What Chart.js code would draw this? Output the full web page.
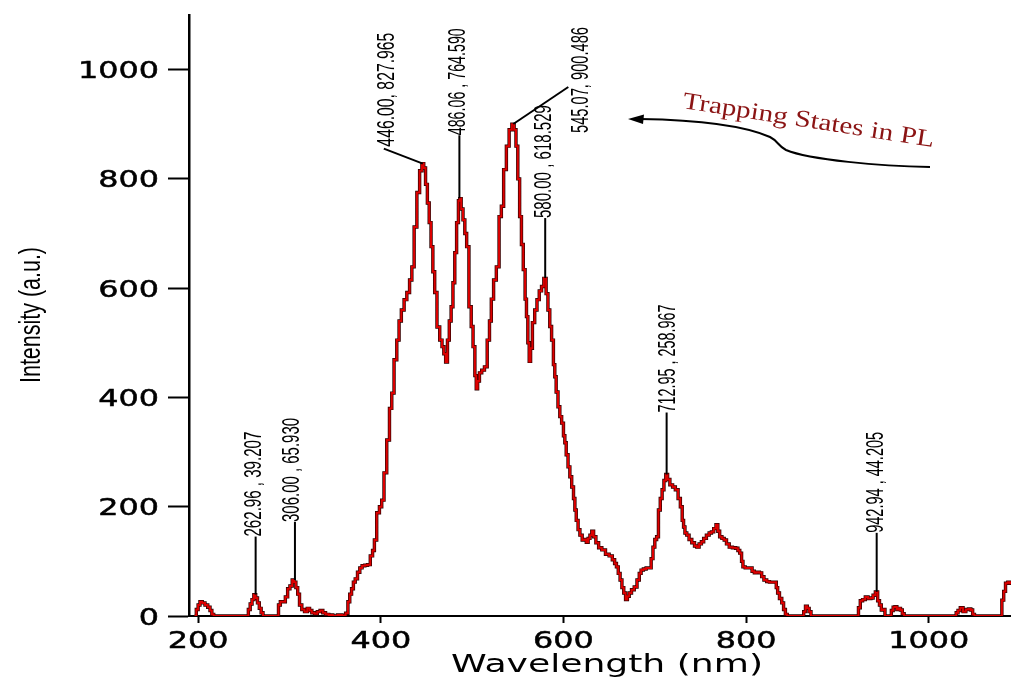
<!DOCTYPE html>
<html><head><meta charset="utf-8">
<script src="https://cdn.jsdelivr.net/npm/chart.js@4.4.0/dist/chart.umd.min.js"></script>
<style>html,body{margin:0;padding:0;background:#fff;overflow:hidden}#wrap{width:1011px;height:677px;position:relative}</style>
</head><body><div id="wrap"><canvas id="c" width="1011" height="677"></canvas></div>
<script>
const wavelengths = [196,197,199,201,203,206,209,212,214,216,218,254,256,258,260,262,264,266,268,270,272,287,289,291,294,297,299,302,304,306,308,310,312,315,318,321,323,326,329,332,335,338,341,345,350,355,360,363,365,367,369,371,373,376,378,381,384,387,390,392,394,397,400,402,405,408,411,413,416,419,421,424,427,430,433,435,438,441,444,446,448,450,452,454,456,458,460,463,466,468,470,472,474,476,478,480,482,484,486,487,489,491,493,495,498,500,502,504,505,507,509,512,515,518,520,522,525,528,531,533,536,539,542,545,547,549,551,553,555,557,559,560,562,563,565,567,570,572,575,577,580,582,584,586,588,590,591,593,595,597,599,601,602,604,606,608,610,612,613,615,617,619,622,624,626,628,630,632,634,637,640,644,648,652,655,657,659,661,663,665,667,669,671,673,676,679,682,684,686,689,692,695,697,699,701,703,705,707,709,711,713,715,718,721,724,727,729,731,732,734,736,739,742,745,747,750,752,755,758,761,763,766,768,770,772,775,777,780,783,787,790,792,794,796,797,801,805,808,810,813,816,818,821,824,827,830,832,834,835,838,840,842,844,846,862,864,866,868,870,872,922,924,926,929,932,935,938,940,943,945,947,949,951,953,958,960,962,964,966,968,970,972,974,1029,1031,1033,1036,1039,1042,1045,1047,1049,1051,1079,1081,1083,1085,1088,1090];
const intensity = [0,0,12,20,26,24,20,16,10,3,0,0,12,22,30,39,33,24,14,6,0,0,20,26,26,35,50,55,66,62,52,40,20,12,8,14,10,6,4,8,10,6,3,2,0,2,1,5,26,40,50,62,68,80,88,92,93,94,110,120,139,189,200,212,262,322,380,408,469,505,540,560,579,592,615,639,712,775,815,828,820,790,756,720,676,630,592,529,505,493,480,465,505,540,566,610,665,720,760,764,745,725,700,676,566,530,493,440,416,430,445,450,456,505,540,580,615,639,731,750,817,860,890,900,890,860,800,731,680,634,580,548,500,466,490,537,560,579,595,603,618,590,560,530,505,460,438,410,383,365,353,330,317,295,273,255,236,215,194,175,158,148,139,140,135,142,148,155,145,134,125,121,113,110,103,96,90,78,66,52,42,30,36,42,48,53,66,78,84,86,88,88,105,126,140,145,194,215,231,248,259,250,240,236,231,215,200,175,163,152,148,140,134,128,126,132,136,142,148,152,154,160,167,155,145,142,139,132,126,125,124,120,115,100,90,88,88,82,79,80,79,72,66,63,62,62,62,52,42,32,24,12,3,0,0,8,18,14,8,0,0,15,28,30,35,32,33,38,44,28,20,11,12,0,0,10,16,17,12,14,11,4,0,0,6,10,15,8,12,13,11,3,0,0,29,45,60,62,60];
const xTickValues = [200,400,600,800,1000];
const yTickValues = [0,200,400,600,800,1000];
const peakWavelengths = [262.96,306.00,446.00,486.06,545.07,580.00,712.95,942.94];
const peakIntensities = [39.207,65.930,827.965,764.590,900.486,618.529,258.967,44.205];
const peakLabels = ["262.96 , 39.207","306.00 , 65.930","446.00, 827.965","486.06 , 764.590","545.07, 900.486","580.00 , 618.529","712.95 , 258.967","942.94 , 44.205"];
const xTitle = "Wavelength (nm)";
const yTitle = "Intensity (a.u.)";
const noteText = "Trapping States in PL";

// label layout relative to peak pixel: text centre dx, text start dy, text length, leader start (null = vertical)
const labelLayout = [
  {dx:-3, dy:-58, len:105, lead:null},
  {dx:-4, dy:-58, len:104, lead:null},
  {dx:-37, dy:-17, len:114, lead:[-39,-15]},
  {dx:-2, dy:-63, len:107, lead:null},
  {dx:67, dy:9, len:106, lead:[55,-37]},
  {dx:-2, dy:-60, len:113, lead:null},
  {dx:0, dy:-62, len:108, lead:null},
  {dx:-2, dy:-59, len:101, lead:null}
];

const points = wavelengths.map((w,i)=>({x:w, y:intensity[i]}));

const textPlugin = {
  id:'texts',
  afterDraw(chart){
    const ctx = chart.ctx, xs = chart.scales.x, ys = chart.scales.y;
    ctx.save();
    ctx.fillStyle = '#000';
    const tickFont = '23px "DejaVu Sans"';
    ctx.font = tickFont;
    const st = 81 / ctx.measureText('1000').width;
    ctx.textBaseline = 'alphabetic';
    ctx.strokeStyle = '#000'; ctx.lineWidth = 0.5;
    yTickValues.forEach(v=>{
      const y = ys.getPixelForValue(v);
      ctx.save(); ctx.translate(159, y + 8.5); ctx.scale(st,1);
      ctx.textAlign = 'right'; ctx.fillText(String(v),0,0); ctx.strokeText(String(v),0,0); ctx.restore();
    });
    xTickValues.forEach(v=>{
      const x = xs.getPixelForValue(v);
      ctx.save(); ctx.translate(x, 648); ctx.scale(st,1);
      ctx.textAlign = 'center'; ctx.fillText(String(v),0,0); ctx.strokeText(String(v),0,0); ctx.restore();
    });
    ctx.font = '24px "DejaVu Sans"';
    let w = ctx.measureText(xTitle).width;
    ctx.save(); ctx.translate(607, 672); ctx.scale(312/w,1);
    ctx.textAlign='center'; ctx.fillText(xTitle,0,0); ctx.restore();
    ctx.font = '30px "Liberation Sans"';
    w = ctx.measureText(yTitle).width;
    ctx.save(); ctx.translate(40, 315); ctx.rotate(-Math.PI/2); ctx.scale(136/w,1);
    ctx.textAlign='center'; ctx.fillText(yTitle,0,0); ctx.restore();
    ctx.strokeStyle = '#000'; ctx.lineWidth = 2;
    ctx.font = '23px "Liberation Sans"';
    peakWavelengths.forEach((pw,i)=>{
      const px = xs.getPixelForValue(pw), py = ys.getPixelForValue(peakIntensities[i]);
      const L = labelLayout[i];
      const tx = px + L.dx, ty = py + L.dy;
      ctx.beginPath();
      if (L.lead) { ctx.moveTo(px + L.lead[0], py + L.lead[1]); }
      else { ctx.moveTo(px, ty); }
      ctx.lineTo(px, py); ctx.stroke();
      const tw = ctx.measureText(peakLabels[i]).width;
      ctx.save(); ctx.translate(tx + 8, ty); ctx.rotate(-Math.PI/2); ctx.scale(L.len/tw,1);
      ctx.textAlign='left'; ctx.fillText(peakLabels[i],0,0); ctx.restore();
    });
    ctx.fillStyle = '#8b1414';
    ctx.font = '24px "Liberation Serif"';
    w = ctx.measureText(noteText).width;
    ctx.save(); ctx.translate(682,108); ctx.rotate(Math.atan2(39,251)); ctx.scale(254/w,1);
    ctx.textAlign='left'; ctx.fillText(noteText,0,0); ctx.restore();
    ctx.strokeStyle='#000'; ctx.lineWidth=2;
    ctx.beginPath();
    ctx.moveTo(930,167);
    ctx.bezierCurveTo(880,166,810,160,786,150);
    ctx.bezierCurveTo(778,146,778,141,770,137);
    ctx.bezierCurveTo(745,126,700,120,640,119);
    ctx.stroke();
    ctx.fillStyle='#000';
    ctx.beginPath(); ctx.moveTo(628,119); ctx.lineTo(644,114.5); ctx.lineTo(643,124); ctx.closePath(); ctx.fill();
    ctx.restore();
  }
};

new Chart(document.getElementById('c'), {
  type:'line',
  data:{datasets:[
    {data:points, borderColor:'#dd0000', borderWidth:2, pointRadius:0, stepped:'middle', fill:false},
    {data:points, borderColor:'#2a0000', borderWidth:3.4, pointRadius:0, stepped:'middle', fill:false}
  ]},
  options:{
    responsive:false, animation:false, devicePixelRatio:1,
    layout:{padding:{top:15,right:0,bottom:0,left:0}},
    plugins:{legend:{display:false}, tooltip:{enabled:false}},
    scales:{
      x:{type:'linear', min:190, max:1090,
        afterBuildTicks(s){ s.ticks = xTickValues.map(v=>({value:v})); },
        afterFit(s){ s.height = 61; },
        ticks:{display:false},
        grid:{drawOnChartArea:false, drawTicks:true, tickLength:7, tickColor:'#000', tickWidth:2, color:'#000'},
        border:{display:true, color:'#000', width:2}
      },
      y:{type:'linear', min:0, max:1100,
        afterBuildTicks(s){ s.ticks = yTickValues.map(v=>({value:v})); },
        afterFit(s){ s.width = 189; },
        ticks:{display:false},
        grid:{drawOnChartArea:false, drawTicks:true, tickLength:21, tickColor:'#000', tickWidth:2, color:'#000'},
        border:{display:true, color:'#000', width:2.5}
      }
    }
  },
  plugins:[textPlugin]
});
</script></body></html>
